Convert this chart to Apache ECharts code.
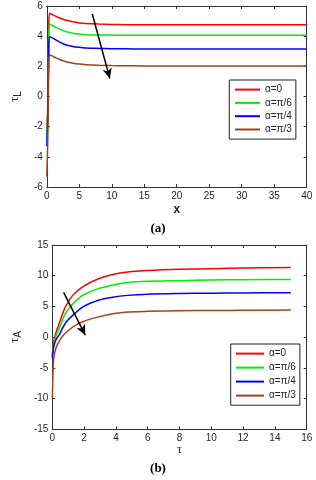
<!DOCTYPE html>
<html>
<head>
<meta charset="utf-8">
<script src="https://cdn.jsdelivr.net/npm/echarts@6/dist/echarts.min.js"></script>
<style>html,body{margin:0;padding:0;background:#fff;}#c{width:316px;height:480px;}</style>
</head>
<body>
<div id="c"></div>
<script>
// ---- Data ----
var names = ['α=0', 'α=π/6', 'α=π/4', 'α=π/3'];
var colors = ['#ff0000', '#00ee00', '#0000ff', '#a8401c'];

// Panel (a): tau_L vs x
var xA = [0, 0.15, 0.3, 0.4, 0.7, 1, 1.5, 2, 2.5, 3, 4, 5, 6, 8, 10, 12, 15, 20, 25, 30, 35, 40];
var redA   = [-2.6, -0.5, 4.6, 5.52, 5.47, 5.4, 5.3, 5.2, 5.12, 5.05, 4.95, 4.88, 4.84, 4.8, 4.78, 4.76, 4.75, 4.75, 4.75, 4.75, 4.75, 4.75];
var greenA = [-2.9, -1.0, 3.9, 4.8, 4.75, 4.68, 4.57, 4.47, 4.38, 4.3, 4.2, 4.14, 4.1, 4.08, 4.07, 4.06, 4.06, 4.06, 4.06, 4.06, 4.06, 4.06];
var blueA  = [-3.3, -1.3, 3.1, 3.96, 3.92, 3.85, 3.72, 3.6, 3.5, 3.42, 3.32, 3.26, 3.22, 3.19, 3.17, 3.16, 3.15, 3.15, 3.15, 3.15, 3.15, 3.15];
var brownA = [-5.3, -3.0, 2.0, 2.76, 2.72, 2.65, 2.54, 2.45, 2.37, 2.3, 2.21, 2.15, 2.11, 2.07, 2.05, 2.04, 2.03, 2.02, 2.02, 2.02, 2.02, 2.02];
var arrowA = [[7.0, 5.47], [9.7, 1.2]];

// Panel (b): tau_A vs tau
var xB = [0, 0.05, 0.1, 0.2, 0.3, 0.47, 0.65, 0.88, 1.28, 1.9, 2.9, 3.8, 4.74, 6, 8, 10, 12, 15];
var redB   = [-3.0, -1.5, -0.6, 0.5, 1.3, 2.5, 3.9, 5.2, 6.8, 8.2, 9.5, 10.2, 10.6, 10.85, 11.05, 11.15, 11.25, 11.35];
var greenB = [-3.2, -1.8, -1.0, 0.0, 0.7, 1.6, 2.9, 4.1, 5.4, 6.8, 7.9, 8.5, 8.9, 9.1, 9.2, 9.3, 9.35, 9.4];
var blueB  = [-3.4, -2.1, -1.4, -0.6, -0.1, 0.55, 1.5, 2.5, 3.55, 4.9, 6.0, 6.5, 6.8, 7.0, 7.1, 7.15, 7.2, 7.22];
var brownB = [-10, -5, -3.2, -2.0, -1.3, -0.5, 0.2, 0.8, 1.65, 2.5, 3.3, 3.8, 4.1, 4.2, 4.3, 4.33, 4.37, 4.4];
var arrowB = [[0.71, 7.3], [2.07, 0.34]];

// ---- Build ----
function pairs(xs, ys) { return xs.map(function (x, i) { return [x, ys[i]]; }); }
var frame = '#333333';
var tickFont = { fontFamily: 'Liberation Sans, Arial', fontSize: 10, color: '#262626' };

function axisX(grid, min, max, interval, pos, showLabel, name, nameStyle, nameGap) {
  return {
    type: 'value', gridIndex: grid, position: pos, min: min, max: max, interval: interval,
    axisLine: { show: true, onZero: false, lineStyle: { color: frame, width: 1 } },
    axisTick: { show: true, inside: true, length: 3, lineStyle: { color: frame } },
    axisLabel: Object.assign({ show: showLabel, margin: 4 }, tickFont),
    splitLine: { show: false },
    name: name || '', nameLocation: 'middle', nameGap: nameGap || 15, nameTextStyle: nameStyle || {}
  };
}
function axisY(grid, min, max, interval, pos, showLabel, name, nameGap) {
  return {
    type: 'value', gridIndex: grid, position: pos, min: min, max: max, interval: interval,
    axisLine: { show: true, onZero: false, lineStyle: { color: frame, width: 1 } },
    axisTick: { show: true, inside: true, length: 3, lineStyle: { color: frame } },
    axisLabel: Object.assign({ show: showLabel, margin: 4 }, tickFont),
    splitLine: { show: false },
    name: name || '', nameLocation: 'middle', nameGap: nameGap || 15,
    nameTextStyle: {
      rich: {
        t: { fontFamily: 'Liberation Serif, Times New Roman', fontSize: 13, color: '#262626' },
        s: { fontFamily: 'Liberation Sans, Arial', fontSize: 10, color: '#262626', padding: [7, 0, 0, 0] }
      }
    }
  };
}

var series = [];
function addSeries(xs, ysList, xi, yi, arrow) {
  ysList.forEach(function (ys, k) {
    var s = {
      type: 'line', name: names[k], xAxisIndex: xi, yAxisIndex: yi,
      data: pairs(xs, ys), showSymbol: false, symbol: 'none', smooth: 0.25,
      lineStyle: { color: colors[k], width: 1.5 }, itemStyle: { color: colors[k] },
      animation: false, z: 3
    };
    if (k === 0) {
      s.markLine = {
        silent: true, animation: false, symbol: ['none', 'arrow'], symbolSize: [7, 10],
        label: { show: false },
        lineStyle: { color: '#000', width: 1.5, type: 'solid' },
        data: [[{ coord: arrow[0] }, { coord: arrow[1] }]]
      };
    }
    series.push(s);
  });
}
addSeries(xA, [redA, greenA, blueA, brownA], 0, 0, arrowA);
addSeries(xB, [redB, greenB, blueB, brownB], 2, 2, arrowB);

function legend(left, top, itemW, gap, pad) {
  return {
    data: names, orient: 'vertical', left: left, top: top,
    icon: 'rect', itemWidth: itemW, itemHeight: 2, itemGap: gap,
    backgroundColor: '#fff', borderColor: '#222', borderWidth: 1, borderRadius: 0,
    padding: pad, selectedMode: false,
    textStyle: { fontFamily: 'Liberation Sans, Arial', fontSize: 10, color: '#262626', lineHeight: 12 }
  };
}

var option = {
  backgroundColor: '#fff',
  animation: false,
  grid: [
    { left: 41.7, top: 6, width: 265, height: 181, show: false },
    { left: 44.3, top: 245, width: 262.4, height: 184.3, show: false }
  ],
  xAxis: [
    axisX(0, 0, 40, 5, 'bottom', true, 'x', { fontFamily: 'Liberation Sans, Arial', fontSize: 12, fontWeight: 'bold', color: '#262626' }, 17),
    axisX(0, 0, 40, 5, 'top', false),
    axisX(1, 0, 16, 2, 'bottom', true, 'τ', { fontFamily: 'Liberation Serif, Times New Roman', fontSize: 12, color: '#262626' }, 15),
    axisX(1, 0, 16, 2, 'top', false)
  ],
  yAxis: [
    axisY(0, -6, 6, 2, 'left', true, '{t|τ}{s|L}', 16),
    axisY(0, -6, 6, 2, 'right', false),
    axisY(1, -15, 15, 5, 'left', true, '{t|τ}{s|A}', 19),
    axisY(1, -15, 15, 5, 'right', false)
  ],
  legend: [
    legend(229.3, 80, 25, 1.3, [3.6, 4, 3.6, 5.7]),
    legend(230.7, 344, 28, 2, [3.6, 4, 3.6, 5.3])
  ],
  graphic: [
    { type: 'text', left: 'center', top: 222, style: { text: '(a)', font: 'bold 13px "Liberation Serif", "Times New Roman"', fill: '#000' }, x: 8 },
    { type: 'text', left: 'center', top: 462, style: { text: '(b)', font: 'bold 13px "Liberation Serif", "Times New Roman"', fill: '#000' }, x: 8 }
  ],
  series: series
};

var chart = echarts.init(document.getElementById('c'), null, { renderer: 'canvas' });
chart.setOption(option);
</script>
</body>
</html>
